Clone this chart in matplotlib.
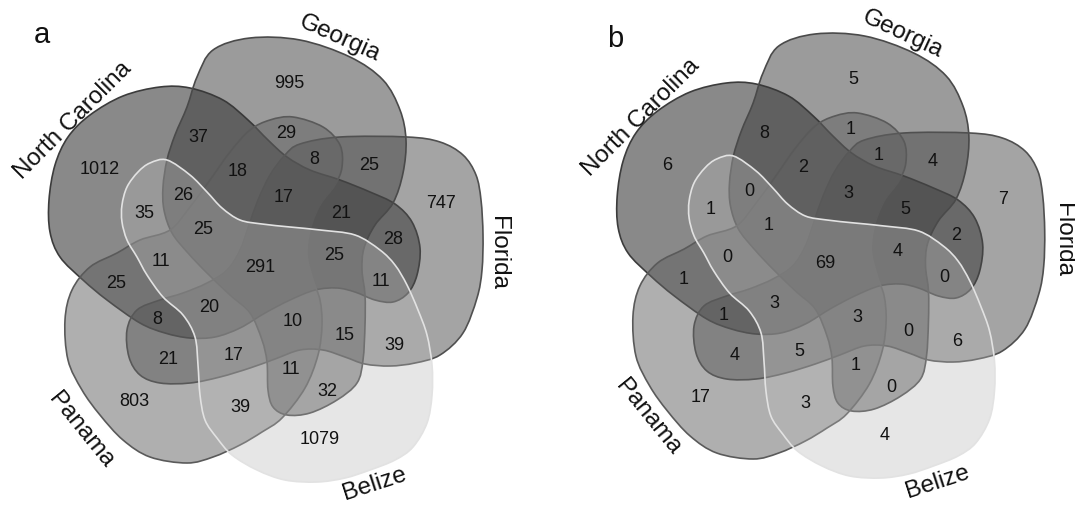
import numpy as np
import matplotlib
matplotlib.use("Agg")
import matplotlib.pyplot as plt
from matplotlib.path import Path
from matplotlib.patches import PathPatch

plt.rcParams["font.family"] = ["Liberation Sans", "DejaVu Sans"]

# ── data ──────────────────────────────────────────────────────────────────────
SETS  = ["North Carolina", "Georgia", "Florida", "Panama", "Belize"]
CODES = ["N", "G", "F", "P", "B"]

# regions named by the sets they belong to
REGIONS = ["N", "G", "F", "P", "B",
           "NG", "NF", "NP", "NB", "GF", "GP", "GB", "FP", "FB", "PB",
           "NGF", "NGP", "NGB", "NFP", "NFB", "NPB", "GFP", "GFB", "GPB", "FPB",
           "NGFP", "NGFB", "NGPB", "NFPB", "GFPB", "NGFPB"]
counts_a = [1012, 995, 747, 803, 1079,
            37, 28, 25, 35, 25, 29, 32, 21, 39, 39,
            21, 18, 26, 8, 11, 11, 8, 15, 11, 17,
            17, 25, 25, 20, 10, 291]
counts_b = [6, 5, 7, 17, 4,
            8, 2, 1, 1, 4, 1, 0, 4, 6, 3,
            5, 2, 0, 1, 0, 0, 1, 0, 1, 5,
            3, 4, 1, 3, 3, 69]

# ── geometry (panel a pixel frame) ────────────────────────────────────────────
OUTLINES = {
    "N": [(55,165), (68,137), (90,115), (123,96), (160,87), (190,88), (223,100),
          (248,120), (268,140), (287,157), (310,170), (340,180), (370,192),
          (395,204), (412,222), (420,248), (417,275), (408,293), (393,302),
          (375,300), (355,292), (337,288), (315,290), (290,300), (265,313),
          (240,328), (215,337), (190,338), (165,333), (140,323), (107,300),
          (83,280), (60,257), (50,232), (49,200)],
    "G": [(213,50), (250,38), (300,40), (350,57), (383,80), (400,110), (406,140),
          (403,173), (393,203), (375,225), (364,248), (362,270), (365,295),
          (365,325), (363,360), (357,383), (337,400), (310,413), (287,415),
          (273,407), (268,390), (267,362), (262,340), (250,313), (230,295),
          (207,273), (188,253), (172,233), (164,210), (163,187), (167,160),
          (175,135), (187,107), (197,77)],
    "F": [(285,155), (300,144), (340,137), (407,137), (440,142), (463,155),
          (476,175), (481,200), (483,235), (482,270), (477,298), (463,333),
          (440,355), (415,363), (390,366), (365,364), (345,357), (323,350),
          (300,350), (275,359), (250,368), (220,377), (190,383), (160,383),
          (140,375), (129,357), (127,330), (137,310), (160,300), (183,293),
          (207,283), (227,270), (240,250), (249,225), (258,200), (270,175)],
    "P": [(90,267), (117,253), (140,240), (170,230), (190,207), (210,180),
          (230,152), (250,130), (270,120), (293,117), (323,127), (340,145),
          (342,167), (335,185), (320,205), (310,230), (307,255), (313,280),
          (320,300), (322,325), (318,355), (305,388), (282,418), (262,432),
          (240,445), (213,457), (187,463), (150,457), (123,440), (100,415),
          (82,390), (68,360), (65,320), (72,290)],
    "B": [(167,160), (150,163), (138,172), (127,187), (122,205), (122,222),
          (127,240), (137,257), (147,275), (163,297), (183,315), (195,337),
          (198,365), (200,395), (205,420), (217,438), (232,455), (257,470),
          (285,480), (317,482), (345,478), (370,470), (395,460), (413,447),
          (427,423), (432,395), (432,365), (427,335), (418,310), (407,285),
          (395,265), (380,250), (355,235), (320,230), (290,227), (262,224),
          (240,220), (222,208), (207,192), (190,175)],
}
LABEL_XY = {
    "N": (100,170), "G": (289,83), "F": (441,203), "P": (134,402), "B": (320,439),
    "NG": (198,138), "NF": (393,240), "NP": (116,284), "NB": (144,213),
    "GF": (369,166), "GP": (286,133), "GB": (327,391), "FP": (168,360),
    "FB": (394,346), "PB": (240,407),
    "NGF": (341,213), "NGP": (238,172), "NGB": (183,195), "NFP": (157,319),
    "NFB": (381,282), "NPB": (161,262), "GFP": (314,160), "GFB": (345,336),
    "GPB": (291,370), "FPB": (234,356),
    "NGFP": (284,197), "NGFB": (334,256), "NGPB": (203,230), "NFPB": (209,308),
    "GFPB": (293,322), "NGFPB": (260,268),
}
FILL  = {"N": (0.08, 0.50), "G": (0.22, 0.50), "F": (0.29, 0.50),
         "P": (0.38, 0.50), "B": (0.72, 0.35)}
EDGE  = {"N": "#3c3c3c", "G": "#4a4a4a", "F": "#505050", "P": "#5a5a5a", "B": "#e2e2e2"}

PANELS = [
    {"tag": "a", "tag_xy": (42, 35), "dx": 0, "dy": 0, "sx": 1.0, "counts": counts_a,
     "names": [((73,121), 45), ((340,38), -24), ((498,253), -90), ((81,430), -51), ((375,484), 18)]},
    {"tag": "b", "tag_xy": (615, 39), "dx": 565, "dy": -4, "sx": 0.985, "counts": counts_b,
     "names": [((641,118), 45), ((902,34), -25), ((1063,240), -90), ((648,417), -51), ((938,482), 18)]},
]
CX = 263


def place(xy, p):
    x, y = xy
    return CX + p["dx"] + p["sx"] * (x - CX), y + p["dy"]


def smooth_path(pts):
    pts = np.asarray(pts, float)
    n = len(pts)
    verts, codes = [pts[0]], [Path.MOVETO]
    for i in range(n):
        p0, p1, p2, p3 = pts[i-1], pts[i], pts[(i+1) % n], pts[(i+2) % n]
        verts += [p1 + (p2 - p0) / 6, p2 - (p3 - p1) / 6, p2]
        codes += [Path.CURVE4] * 3
    verts.append(pts[0]); codes.append(Path.CLOSEPOLY)
    return Path(verts, codes)


fig = plt.figure(figsize=(10.75, 5.07), dpi=100)
ax = fig.add_axes([0, 0, 1, 1])
ax.set_xlim(0, 1075); ax.set_ylim(507, 0)
ax.axis("off")

for p in PANELS:
    for code in CODES:
        g, a = FILL[code]
        pts = [place(xy, p) for xy in OUTLINES[code]]
        ax.add_patch(PathPatch(smooth_path(pts), facecolor=(g, g, g, a),
                               edgecolor=EDGE[code], linewidth=1.2))
    for reg, n in zip(REGIONS, p["counts"]):
        x, y = place(LABEL_XY[reg], p)
        ax.text(x, y, str(n), ha="center", va="center", fontsize=13, color="#111111")
    for name, ((x, y), rot) in zip(SETS, p["names"]):
        ax.text(x, y, name, ha="center", va="center", rotation=rot,
                rotation_mode="anchor", fontsize=17.5, color="#111111")
    ax.text(*p["tag_xy"], p["tag"], ha="center", va="center", fontsize=21, color="#111111")

fig.savefig("out.png", dpi=100)
